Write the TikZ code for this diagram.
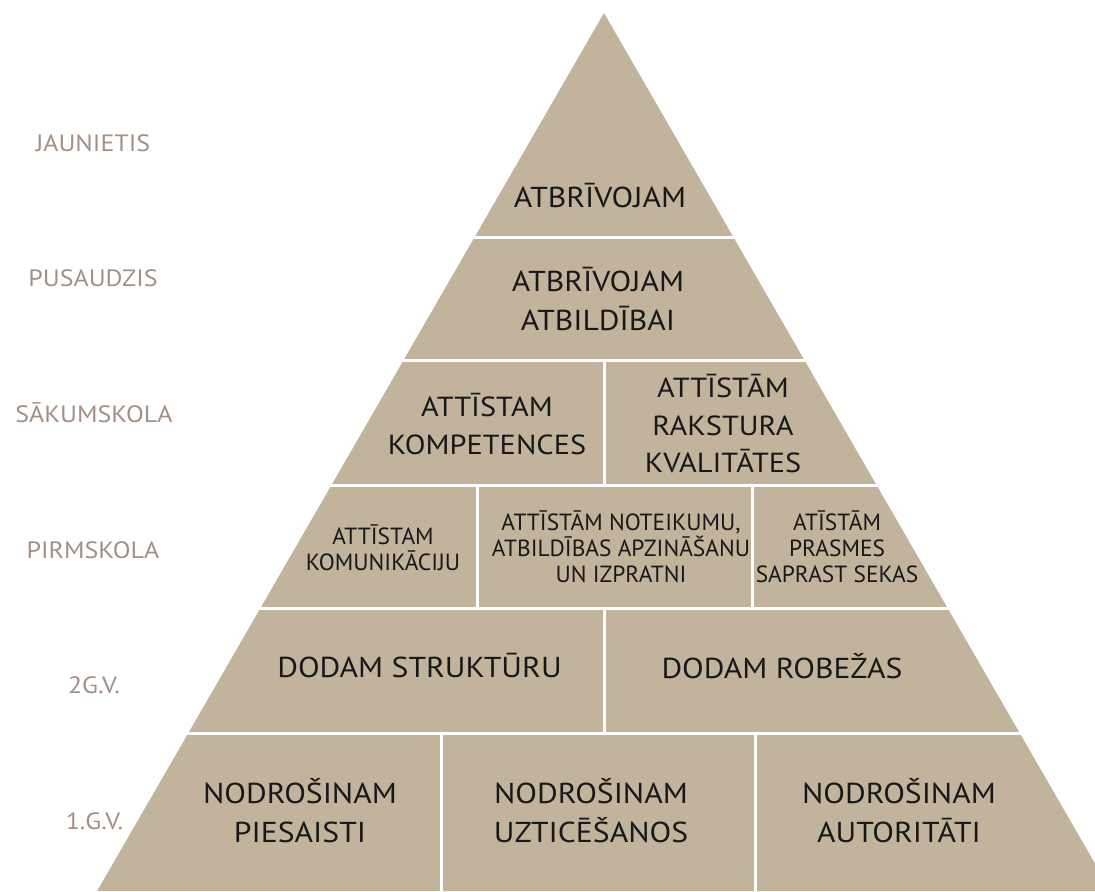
\documentclass[tikz,border=0pt]{standalone}
\usepackage{fontspec}
\setmainfont{PT Sans}[FakeStretch=1.1]
\newfontfamily\narrowfont{PT Sans}
\usetikzlibrary{positioning}
\definecolor{sand}{RGB}{194,180,156}
\definecolor{labelgray}{RGB}{162,144,134}
\definecolor{ink}{RGB}{24,24,24}

\begin{document}
\begin{tikzpicture}[x=0.5pt,y=-0.5pt,
  tier/.style={text=ink, align=center, inner sep=0pt, font=\fontsize{14.4}{19.5}\selectfont},
  midtier/.style={tier, font=\fontsize{13.8}{18.75}\selectfont},
  smalltier/.style={tier, font=\narrowfont\fontsize{11.7}{13}\selectfont},
  stage/.style={text=labelgray, inner sep=0pt, font=\fontsize{11.8}{14}\selectfont},
  gap/.style={draw=white, line width=1.5pt}]
  \clip (0,0) rectangle (1095,891);
  \fill[sand] (604,13) -- (97.1,891) -- (1110.9,891) -- cycle;
  % white joints between the blocks
  \foreach \y in {237,360,485,608,733}
    \draw[gap] (0,\y) -- (1095,\y);
  \draw[gap] (604,360) -- (604,485);
  \draw[gap] (477,485) -- (477,608);
  \draw[gap] (752,485) -- (752,608);
  \draw[gap] (604,608) -- (604,733);
  \draw[gap] (441,733) -- (441,891);
  \draw[gap] (755,733) -- (755,891);

  % age stages
  \node[stage] (jaunietis) at (93,143.5) {JAUNIETIS};
  \node[stage] (pusaudzis) at (93,278) {PUSAUDZIS};
  \node[stage] (sakumskola) at (94,413) {SĀKUMSKOLA};
  \node[stage] (pirmskola) at (93,550) {PIRMSKOLA};
  \node[stage] (divigv) at (94,685) {2G.V.};
  \node[stage] (vienagv) at (94.5,821) {1.G.V.};

  % pyramid blocks
  \node[tier] (atbrivojam) at (600,196) {ATBRĪVOJAM};
  \node[tier] (atbildibai) at (598,299) {ATBRĪVOJAM\\ATBILDĪBAI};
  \node[midtier] (kompetences) at (487,424) {ATTĪSTAM\\KOMPETENCES};
  \node[midtier] (rakstura) at (723,424) {ATTĪSTĀM\\RAKSTURA\\KVALITĀTES};
  \node[smalltier] (komunikacija) at (383,548) {ATTĪSTAM\\KOMUNIKĀCIJU};
  \node[smalltier] (noteikumi) at (621,547) {ATTĪSTĀM NOTEIKUMU,\\ATBILDĪBAS APZINĀŠANU\\UN IZPRATNI};
  \node[smalltier] (sekas) at (837,547) {ATĪSTĀM\\PRASMES\\SAPRAST SEKAS};
  \node[tier] (struktura) at (419.5,666) {DODAM STRUKTŪRU};
  \node[tier] (robezas) at (782,666) {DODAM ROBEŽAS};
  \node[tier] (piesaiste) at (300,811) {NODROŠINAM\\PIESAISTI};
  \node[tier] (uzticesanas) at (591,811) {NODROŠINAM\\UZTICĒŠANOS};
  \node[tier] (autoritate) at (899,811) {NODROŠINAM\\AUTORITĀTI};
\end{tikzpicture}
\end{document}
